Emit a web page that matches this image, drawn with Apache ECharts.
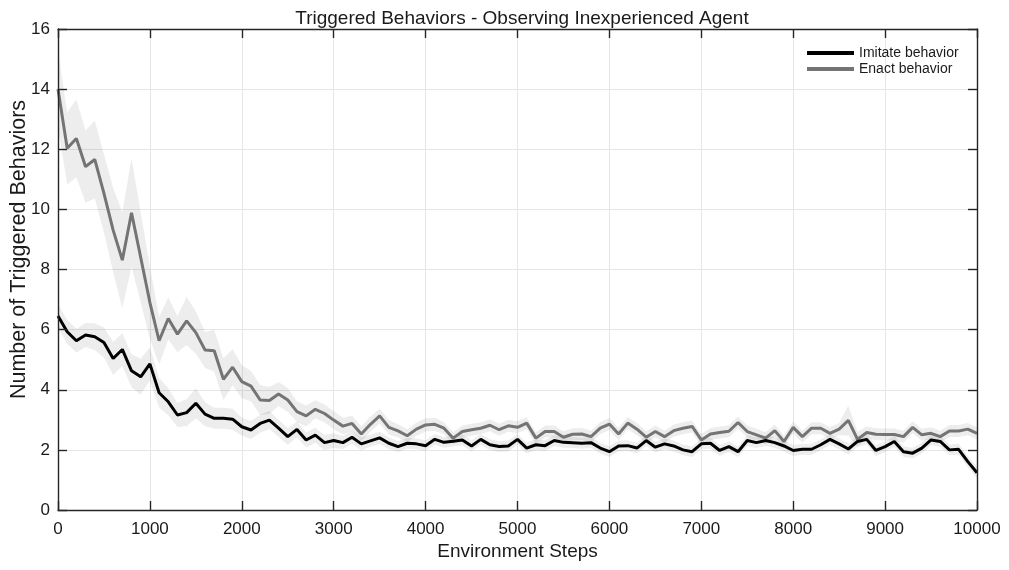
<!DOCTYPE html>
<html><head><meta charset="utf-8">
<script src="https://cdn.jsdelivr.net/npm/echarts@6/dist/echarts.min.js"></script>
<style>html,body{margin:0;padding:0;background:#fff}#c{width:1009px;height:570px}</style>
</head><body><div id="c"></div>
<script>
const xTicks = [0,1000,2000,3000,4000,5000,6000,7000,8000,9000,10000];
const yTicks = [0,2,4,6,8,10,12,14,16];
const stepSize = 100;
const imitate = [6.45,5.93,5.63,5.82,5.76,5.57,5.04,5.34,4.63,4.43,4.86,3.90,3.60,3.16,3.24,3.55,3.19,3.05,3.05,3.02,
2.77,2.66,2.88,2.99,2.72,2.44,2.68,2.33,2.49,2.24,2.31,2.24,2.42,2.20,2.30,2.40,2.22,2.11,2.22,2.20,
2.14,2.35,2.25,2.29,2.33,2.13,2.35,2.17,2.11,2.13,2.35,2.06,2.17,2.14,2.31,2.25,2.24,2.22,2.24,2.06,
1.94,2.13,2.14,2.06,2.31,2.09,2.20,2.13,2.00,1.94,2.20,2.22,1.98,2.11,1.94,2.31,2.24,2.31,2.24,2.13,
1.98,2.02,2.02,2.17,2.35,2.20,2.03,2.28,2.35,1.98,2.11,2.28,1.94,1.89,2.06,2.33,2.28,2.00,2.02,1.61,1.24];
const enact = [14.0,12.03,12.36,11.42,11.66,10.53,9.31,8.31,9.89,8.4,6.9,5.63,6.37,5.85,6.29,5.90,5.32,5.30,4.35,4.75,
4.27,4.12,3.66,3.64,3.86,3.66,3.27,3.13,3.35,3.21,2.99,2.79,2.88,2.53,2.85,3.13,2.75,2.63,2.47,2.69,
2.83,2.85,2.72,2.39,2.61,2.67,2.72,2.82,2.67,2.80,2.75,2.89,2.39,2.61,2.61,2.42,2.52,2.53,2.44,2.72,
2.86,2.53,2.89,2.69,2.42,2.61,2.44,2.64,2.72,2.78,2.33,2.53,2.58,2.62,2.91,2.61,2.50,2.39,2.64,2.28,
2.75,2.44,2.72,2.72,2.55,2.69,2.98,2.35,2.58,2.52,2.51,2.51,2.44,2.75,2.50,2.55,2.44,2.63,2.63,2.69,2.55];
const imitateSpread = [0.40,0.40,0.40,0.40,0.45,0.50,0.55,0.55,0.55,0.60,0.55,0.50,0.45,0.40,0.45,0.50,0.40,0.35,0.35,0.35,
0.30,0.30,0.30,0.30,0.28,0.28,0.26,0.25,0.25,0.25,0.24,0.22,0.22,0.22,0.20,0.20,0.20,0.18,0.18,0.18,
0.18,0.18,0.18,0.18,0.18,0.18,0.18,0.18,0.18,0.18,0.18,0.18,0.18,0.18,0.18,0.18,0.18,0.18,0.18,0.18,
0.18,0.18,0.18,0.18,0.18,0.18,0.18,0.18,0.18,0.18,0.18,0.18,0.18,0.18,0.18,0.18,0.18,0.18,0.18,0.18,
0.18,0.18,0.18,0.18,0.18,0.18,0.18,0.18,0.18,0.18,0.18,0.18,0.18,0.18,0.18,0.18,0.18,0.18,0.18,0.18,0.18];
const enactSpread = [1.30,1.20,1.30,1.20,1.30,1.30,1.40,1.60,1.80,1.50,1.20,0.80,0.70,0.60,0.80,0.70,0.60,0.70,0.70,0.60,
0.55,0.50,0.50,0.45,0.40,0.40,0.35,0.35,0.30,0.30,0.30,0.28,0.26,0.25,0.25,0.25,0.24,0.22,0.22,0.22,
0.22,0.22,0.20,0.20,0.20,0.20,0.20,0.20,0.20,0.20,0.20,0.20,0.20,0.20,0.20,0.20,0.20,0.20,0.20,0.20,
0.20,0.20,0.20,0.20,0.20,0.20,0.20,0.20,0.20,0.20,0.20,0.20,0.20,0.20,0.20,0.20,0.20,0.20,0.20,0.20,
0.20,0.20,0.20,0.20,0.20,0.20,0.50,0.25,0.20,0.20,0.20,0.20,0.20,0.20,0.20,0.20,0.20,0.20,0.20,0.20,0.20];

const FONT = '"Liberation Sans", Arial, Helvetica, sans-serif';
const steps = imitate.map((_, i) => i * stepSize);
const pair = (arr) => arr.map((v, i) => [steps[i], v]);

const frameLine = {color: '#262626', width: 1.4};
const bandColor = 'rgba(0,0,0,0.07)';
const TXT = '#1a1a1a';

function bandSeries(m, s) {
  return {
    type: 'custom', coordinateSystem: 'cartesian2d', xAxisIndex: 0, yAxisIndex: 0,
    data: [[steps[0], m[0]]], silent: true, clip: true, z: 1,
    renderItem: function (params, api) {
      const pts = [];
      for (let i = 0; i < m.length; i++) pts.push(api.coord([steps[i], m[i] + s[i]]));
      for (let i = m.length - 1; i >= 0; i--) pts.push(api.coord([steps[i], m[i] - s[i]]));
      return {type: 'polygon', shape: {points: pts}, style: {fill: bandColor, stroke: null}};
    }
  };
}

const xMin = xTicks[0], xMax = xTicks[xTicks.length - 1];
const yMin = yTicks[0], yMax = yTicks[yTicks.length - 1];
const frameX = (pos) => ({type: 'value', min: xMin, max: xMax, interval: 1000, position: pos, z: 10,
  axisLine: {show: true, onZero: false, lineStyle: frameLine},
  axisTick: {show: true, inside: true, length: 9, lineStyle: frameLine},
  axisLabel: {show: false}, splitLine: {show: false}});
const frameY = (pos) => ({type: 'value', min: yMin, max: yMax, interval: 2, position: pos, z: 10,
  axisLine: {show: true, onZero: false, lineStyle: frameLine},
  axisTick: {show: true, inside: true, length: 9, lineStyle: frameLine},
  axisLabel: {show: false}, splitLine: {show: false}});

const chart = echarts.init(document.getElementById('c'), null, {renderer: 'canvas'});
chart.setOption({
  animation: false,
  backgroundColor: '#fff',
  textStyle: {fontFamily: FONT},
  title: {text: 'Triggered Behaviors - Observing Inexperienced Agent', left: 517, textAlign: 'center', top: 4,
    textStyle: {fontSize: 19, fontWeight: 'normal', color: TXT, fontFamily: FONT}},
  legend: {data: ['Imitate behavior', 'Enact behavior'], orient: 'vertical', left: 807, top: 46, padding: 0,
    itemWidth: 47, itemHeight: 4, icon: 'rect', itemGap: 2,
    textStyle: {fontSize: 14, color: TXT, fontFamily: FONT, lineHeight: 14}},
  grid: {left: 58, right: 32, top: 29, bottom: 60, containLabel: false, outerBoundsMode: 'none'},
  xAxis: [
    {type: 'value', min: xMin, max: xMax, interval: 1000, position: 'bottom',
     name: 'Environment Steps', nameLocation: 'middle', nameGap: 32, nameMoveOverlap: false,
     nameTextStyle: {fontSize: 19, color: TXT, fontFamily: FONT},
     axisLine: {show: false}, axisTick: {show: false},
     axisLabel: {fontSize: 17, color: TXT, margin: 11, fontFamily: FONT, formatter: (v) => String(v)},
     splitLine: {show: true, lineStyle: {color: '#e6e6e6', width: 1}}},
    frameX('top'),
    frameX('bottom')
  ],
  yAxis: [
    {type: 'value', min: yMin, max: yMax, interval: 2, position: 'left',
     name: 'Number of Triggered Behaviors', nameLocation: 'middle', nameGap: 28, nameMoveOverlap: false,
     nameTextStyle: {fontSize: 21.5, color: TXT, fontFamily: FONT, padding: [0, 0, 0, 40]},
     axisLine: {show: false}, axisTick: {show: false},
     axisLabel: {fontSize: 17, color: TXT, margin: 8, fontFamily: FONT, formatter: (v) => String(v)},
     splitLine: {show: true, lineStyle: {color: '#e6e6e6', width: 1}}},
    frameY('right'),
    frameY('left')
  ],
  series: [
    bandSeries(enact, enactSpread),
    bandSeries(imitate, imitateSpread),
    {name: 'Enact behavior', type: 'line', data: pair(enact), symbol: 'none',
     itemStyle: {color: '#747474'}, lineStyle: {color: '#747474', width: 3}, z: 3},
    {name: 'Imitate behavior', type: 'line', data: pair(imitate), symbol: 'none',
     itemStyle: {color: '#000'}, lineStyle: {color: '#000', width: 3}, z: 4}
  ]
});
</script></body></html>
